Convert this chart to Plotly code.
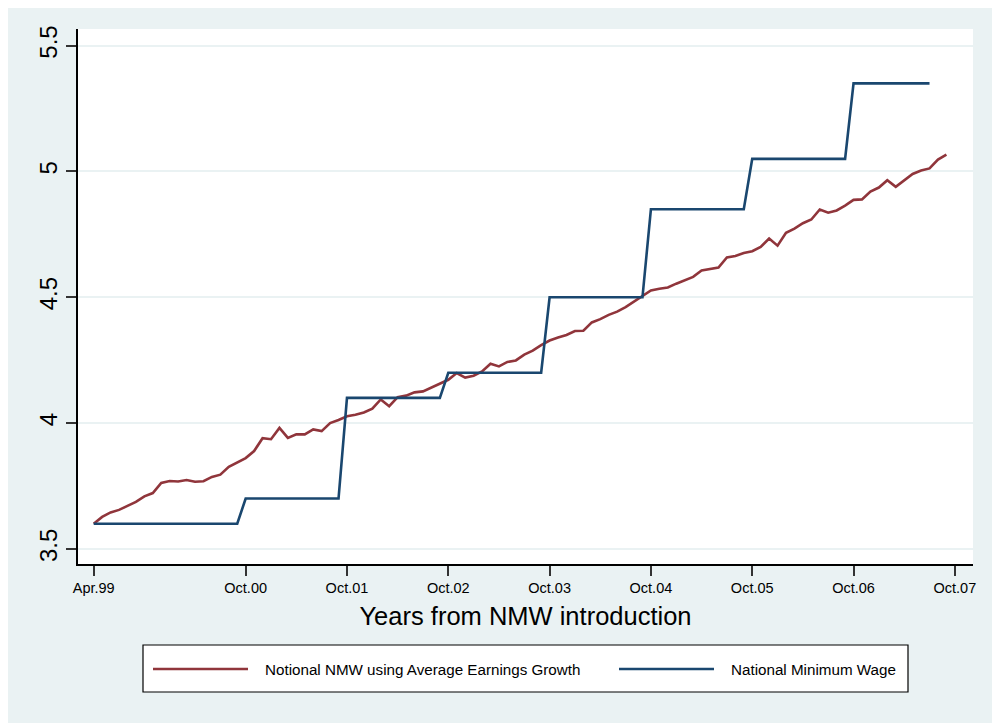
import plotly.graph_objects as go

# Monthly values, month 0 = April 1999
notional_nmw = [3.600, 3.627, 3.645, 3.655, 3.671, 3.687, 3.709, 3.722, 3.762, 3.770,
                3.768, 3.774, 3.767, 3.769, 3.786, 3.795, 3.826, 3.842, 3.861, 3.889,
                3.940, 3.936, 3.981, 3.941, 3.955, 3.955, 3.975, 3.968, 4.000, 4.012,
                4.027, 4.033, 4.042, 4.057, 4.094, 4.067, 4.103, 4.109, 4.122, 4.126,
                4.142, 4.156, 4.172, 4.199, 4.181, 4.188, 4.205, 4.236, 4.225, 4.243,
                4.249, 4.272, 4.288, 4.310, 4.328, 4.340, 4.350, 4.366, 4.367, 4.400,
                4.413, 4.430, 4.443, 4.461, 4.482, 4.503, 4.527, 4.534, 4.539, 4.554,
                4.566, 4.581, 4.606, 4.611, 4.618, 4.658, 4.664, 4.676, 4.683, 4.700,
                4.733, 4.705, 4.756, 4.773, 4.794, 4.809, 4.849, 4.836, 4.845, 4.864,
                4.887, 4.889, 4.920, 4.936, 4.965, 4.939, 4.965, 4.990, 5.004, 5.012,
                5.047, 5.067]

national_min_wage = [3.60, 3.60, 3.60, 3.60, 3.60, 3.60, 3.60, 3.60, 3.60, 3.60,
                     3.60, 3.60, 3.60, 3.60, 3.60, 3.60, 3.60, 3.60, 3.70, 3.70,
                     3.70, 3.70, 3.70, 3.70, 3.70, 3.70, 3.70, 3.70, 3.70, 3.70,
                     4.10, 4.10, 4.10, 4.10, 4.10, 4.10, 4.10, 4.10, 4.10, 4.10,
                     4.10, 4.10, 4.20, 4.20, 4.20, 4.20, 4.20, 4.20, 4.20, 4.20,
                     4.20, 4.20, 4.20, 4.20, 4.50, 4.50, 4.50, 4.50, 4.50, 4.50,
                     4.50, 4.50, 4.50, 4.50, 4.50, 4.50, 4.85, 4.85, 4.85, 4.85,
                     4.85, 4.85, 4.85, 4.85, 4.85, 4.85, 4.85, 4.85, 5.05, 5.05,
                     5.05, 5.05, 5.05, 5.05, 5.05, 5.05, 5.05, 5.05, 5.05, 5.05,
                     5.35, 5.35, 5.35, 5.35, 5.35, 5.35, 5.35, 5.35, 5.35, 5.35]

tick_months = [0, 18, 30, 42, 54, 66, 78, 90, 102]
tick_labels = ["Apr.99", "Oct.00", "Oct.01", "Oct.02", "Oct.03",
               "Oct.04", "Oct.05", "Oct.06", "Oct.07"]
y_ticks = [3.5, 4, 4.5, 5, 5.5]
y_tick_labels = ["3.5", "4", "4.5", "5", "5.5"]

series_names = ["Notional NMW using Average Earnings Growth", "National Minimum Wage"]
RED = "#90353B"
BLUE = "#1A476F"
BG = "#EAF2F3"
FONT = "Liberation Sans, Arial, sans-serif"

# page offset introduced by the default body margin of the HTML page
OFF = 8
W, H = 1000, 725
PW, PH = 895, 535
L, T = 78 - OFF, 29 - OFF
R, B = W - L - PW, H - T - PH
PLOT_LEFT_PAGE = L + OFF
PLOT_BOTTOM_PAGE = T + OFF + PH


def px(xpage):
    return (xpage - PLOT_LEFT_PAGE) / PW


def py(ypage):
    return (PLOT_BOTTOM_PAGE - ypage) / PH


fig = go.Figure()
fig.add_trace(go.Scatter(x=list(range(len(notional_nmw))), y=notional_nmw, mode="lines",
                         name=series_names[0], line=dict(color=RED, width=2.6),
                         showlegend=False))
fig.add_trace(go.Scatter(x=list(range(len(national_min_wage))), y=national_min_wage,
                         mode="lines", name=series_names[1],
                         line=dict(color=BLUE, width=2.6), showlegend=False))

shapes = [
    dict(type="rect", xref="paper", yref="paper", x0=px(OFF), x1=px(995), y0=py(723), y1=py(OFF),
         fillcolor=BG, line=dict(width=0), layer="below"),
    dict(type="rect", xref="paper", yref="paper", x0=0, x1=1, y0=0, y1=1,
         fillcolor="white", line=dict(width=0), layer="below"),
    # legend box
    dict(type="rect", xref="paper", yref="paper", x0=px(143), x1=px(908), y0=py(692), y1=py(645),
         fillcolor="white", line=dict(color="black", width=1.2)),
    dict(type="line", xref="paper", yref="paper", x0=px(153), x1=px(248), y0=py(669), y1=py(669),
         line=dict(color=RED, width=2.6)),
    dict(type="line", xref="paper", yref="paper", x0=px(619), x1=px(714), y0=py(669), y1=py(669),
         line=dict(color=BLUE, width=2.6)),
]

annotations = [
    dict(xref="paper", yref="paper", x=px(263), y=py(669), xanchor="left", yanchor="middle",
         text=series_names[0], showarrow=False, font=dict(family=FONT, size=15.2, color="black")),
    dict(xref="paper", yref="paper", x=px(729), y=py(669), xanchor="left", yanchor="middle",
         text=series_names[1], showarrow=False, font=dict(family=FONT, size=15.2, color="black")),
]

fig.update_layout(
    width=W, height=H,
    margin=dict(l=L, r=R, t=T, b=B, autoexpand=False),
    paper_bgcolor="white", plot_bgcolor="white",
    font=dict(family=FONT, color="black"),
    shapes=shapes, annotations=annotations,
    showlegend=False,
    xaxis=dict(range=[-1.86, 104.15], tickmode="array", tickvals=tick_months,
               ticktext=tick_labels, showgrid=False, zeroline=False,
               showline=True, linecolor="black", linewidth=1.5,
               ticks="outside", ticklen=10, tickwidth=1.5, tickcolor="#333",
               tickfont=dict(family=FONT, size=14.5, color="black"),
               title=dict(text="Years from NMW introduction", standoff=12,
                          font=dict(family=FONT, size=25.5, color="black")),
               automargin=False),
    yaxis=dict(range=[3.44, 5.566], tickmode="array", tickvals=y_ticks,
               ticktext=y_tick_labels, showgrid=True, gridcolor=BG, gridwidth=2,
               zeroline=False, showline=True, linecolor="black", linewidth=1.5,
               ticks="outside", ticklen=10, tickwidth=1.5, tickcolor="#333",
               tickangle=-90, ticklabelstandoff=0,
               tickfont=dict(family=FONT, size=24, color="black"),
               automargin=False),
)

fig.write_html("out.html")
